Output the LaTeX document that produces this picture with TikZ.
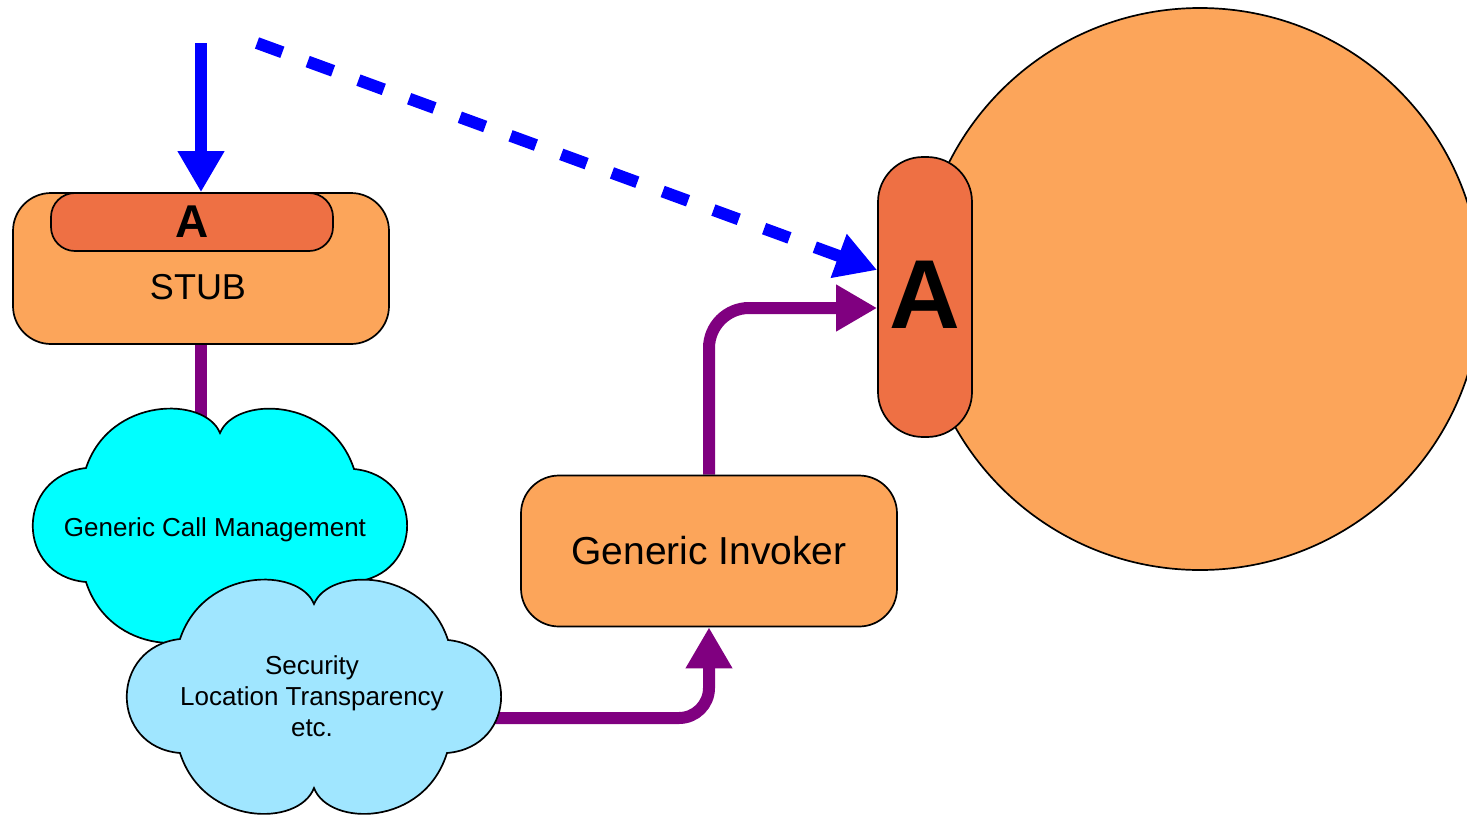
\documentclass[tikz,border=0pt]{standalone}
\usepackage{fontspec}
\setmainfont{Liberation Sans}
\usetikzlibrary{arrows.meta,positioning,backgrounds}

\definecolor{stuborange}{HTML}{FCA55A}
\definecolor{ifcred}{HTML}{EE7044}
\definecolor{gcmcyan}{HTML}{00FFFF}
\definecolor{seclight}{HTML}{A0E6FF}
\definecolor{linkpurple}{HTML}{800080}

\tikzset{
  box/.style={draw=black, fill=stuborange, line width=1.7pt, rounded corners=38pt, minimum width=376pt, minimum height=151pt},
  ifc/.style={draw=black, fill=ifcred, line width=1.7pt},
  cloudtxt/.style={align=center, font=\fontsize{26}{31}\selectfont},
  cloudpic/.pic={
    \path[pic actions] (-134,-58) .. controls (-110,-130) and (-15,-130) .. (0,-93)
      .. controls (15,-130) and (110,-130) .. (134,-57)
      .. controls (205,-50) and (205,50) .. (133,56)
      .. controls (110,130) and (15,130) .. (0,91)
      .. controls (-15,130) and (-110,130) .. (-134,56)
      .. controls (-205,50) and (-205,-50) .. (-134,-58) -- cycle;
  },
}

\begin{document}
\begin{tikzpicture}[
  x=1pt, y=-1pt,
  link/.style={linkpurple, line width=12pt, -{Triangle[width=44pt,length=41pt]}},
  call/.style={blue, line width=12pt, -{Triangle[width=44pt,length=41pt]}},
  ]
  \useasboundingbox (0,0) rectangle (1467,815);

  % server object
  \draw[fill=stuborange, line width=1.7pt] (1200,289) circle[radius=281];
  \node[ifc, rounded corners=45pt, minimum width=94pt, minimum height=280pt,
        font=\fontsize{98}{98}\selectfont\bfseries] (servA) at (925,297) {\raisebox{4pt}{A}};

  % client side
  \node[box] (stub) at (201,268.5) {};
  \node[ifc, rounded corners=24pt, minimum width=282pt, minimum height=58pt, anchor=north,
        font=\fontsize{46}{46}\selectfont\bfseries] (stubA) at ([xshift=-9pt]stub.north) {A};
  \node[font=\fontsize{36}{36}\selectfont] (stubtxt) at (198,287) {STUB};

  \pic[draw, fill=gcmcyan, line width=1.7pt] at (220,526) {cloudpic};
  \node[cloudtxt] (gcm) at (215,530) {Generic Call Management};
  \pic[draw, fill=seclight, line width=1.7pt] at (314,697) {cloudpic};
  \node[cloudtxt] (sec) at (312,696) {Security\\Location Transparency\\etc.};

  \node[box, font=\fontsize{39}{39}\selectfont] (gi) at (709,551) {Generic Invoker};

  \coordinate (callin) at (201,43);
  \coordinate (remotein) at (257,43);

  \begin{scope}[on background layer]
    \draw[call] (callin) -- (stub.north);
    \draw[call, dash pattern=on 27pt off 27pt] (remotein) -- ([yshift=27pt]servA.west);
    \draw[link, -] (stub.south) -- (stub.south |- gcm.center);
    \draw[link, rounded corners=30pt] ([yshift=-22pt]sec.center) -| (gi.south);
    \draw[link, rounded corners=40pt] (gi.north) |- ([yshift=-11pt]servA.west);
  \end{scope}
\end{tikzpicture}
\end{document}
